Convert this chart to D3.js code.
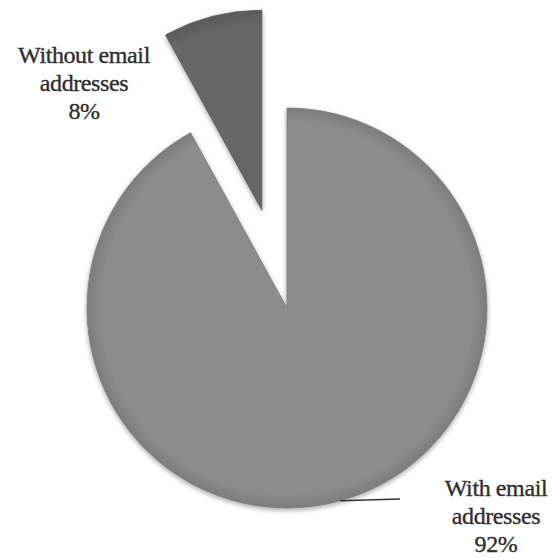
<!DOCTYPE html>
<html>
<head>
<meta charset="utf-8">
<script src="https://cdn.jsdelivr.net/npm/d3@7"></script>
<style>
  html, body { margin: 0; padding: 0; background: #ffffff; }
  svg { display: block; }
  text { font-family: "Liberation Serif", "Times New Roman", serif; fill: #2e2e2e; stroke: #2e2e2e; stroke-width: 0.35px; }
</style>
</head>
<body>
<svg id="chart" width="556" height="558"></svg>
<script>
// Share of records with and without an email address
const categories = ["With email addresses", "Without email addresses"];
const shares = [92, 8];
const labelLines = [["With email", "addresses", "92%"], ["Without email", "addresses", "8%"]];
const sliceColors = ["#8c8c8c", "#666666"];
const rimColors = ["#7c7c7c", "#5a5a5a"];

const svg = d3.select("#chart");
const cx = 287, cy = 308, radius = 200;
const explode = 101; // how far the small slice is pulled out

const defs = svg.append("defs");
const shadow = defs.append("filter").attr("id", "soft")
  .attr("x", "-10%").attr("y", "-10%").attr("width", "120%").attr("height", "120%");
shadow.append("feGaussianBlur").attr("in", "SourceAlpha").attr("stdDeviation", 2.5).attr("result", "b");
shadow.append("feOffset").attr("in", "b").attr("dx", 0).attr("dy", 2).attr("result", "o");
shadow.append("feComponentTransfer").attr("in", "o").attr("result", "s")
  .append("feFuncA").attr("type", "linear").attr("slope", 0.35);
const merge = shadow.append("feMerge");
merge.append("feMergeNode").attr("in", "s");
merge.append("feMergeNode").attr("in", "SourceGraphic");

// radial shading that darkens slightly toward the rim
sliceColors.forEach((c, i) => {
  const g = defs.append("radialGradient").attr("id", "grad" + i)
    .attr("gradientUnits", "userSpaceOnUse")
    .attr("cx", 0).attr("cy", 0).attr("r", radius);
  g.append("stop").attr("offset", "0%").attr("stop-color", c);
  g.append("stop").attr("offset", "93%").attr("stop-color", c);
  g.append("stop").attr("offset", "100%").attr("stop-color", rimColors[i]);
});

const pie = d3.pie().sort(null).value(d => d)
  .startAngle(0).endAngle(2 * Math.PI);
const arcs = pie(shares);
const arc = d3.arc().innerRadius(0).outerRadius(radius);

const root = svg.append("g").attr("transform", `translate(${cx},${cy})`);

const slices = root.selectAll("g.slice").data(arcs).join("g")
  .attr("class", "slice")
  .attr("transform", (d, i) => {
    if (i === 0) return null;
    const mid = (d.startAngle + d.endAngle) / 2;
    return `translate(${explode * Math.sin(mid)},${-explode * Math.cos(mid)})`;
  });

slices.append("path")
  .attr("d", arc)
  .attr("fill", (d, i) => `url(#grad${i})`)
  .attr("stroke", (d, i) => rimColors[i])
  .attr("stroke-width", 0.8)
  .attr("filter", "url(#soft)");

// leader line from the rim of the large slice to its label
const leadAngle = 164.6 * Math.PI / 180;
const lx0 = radius * Math.sin(leadAngle), ly0 = -radius * Math.cos(leadAngle);
root.append("path")
  .attr("d", d3.line()([[lx0, ly0], [113, 191]]))
  .attr("fill", "none")
  .attr("stroke", "#333333")
  .attr("stroke-width", 1.4);

// labels
const labelPos = [{ x: 496, y: 496 }, { x: 84, y: 63 }];
labelLines.forEach((lines, i) => {
  const t = svg.append("text")
    .attr("text-anchor", "middle")
    .attr("font-size", 24)
    .attr("letter-spacing", -0.4);
  lines.forEach((ln, j) => {
    t.append("tspan")
      .attr("x", labelPos[i].x)
      .attr("y", labelPos[i].y + j * 28)
      .text(ln);
  });
});
</script>
</body>
</html>
